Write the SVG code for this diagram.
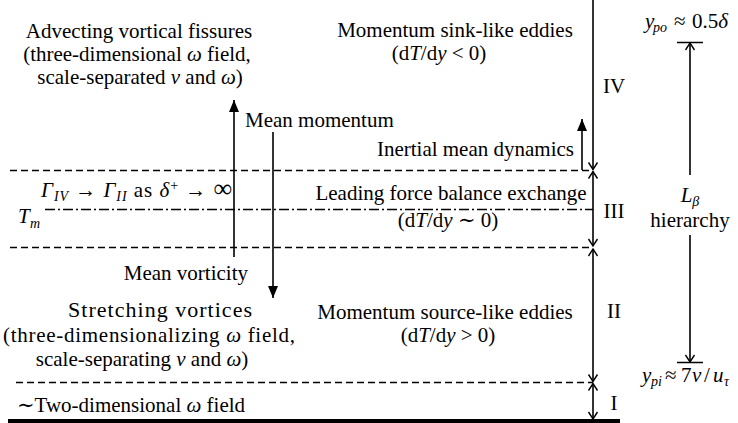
<svg xmlns="http://www.w3.org/2000/svg" width="738" height="423" viewBox="0 0 738 423">
<style>
.t{font-family:"Liberation Serif","Times New Roman","DejaVu Serif",serif;font-size:21px;fill:#000}
.i{font-style:italic}
.s{font-size:14px}
.ln{stroke:#000;stroke-width:1.6;fill:none}
.da{stroke:#000;stroke-width:1.3;fill:none;stroke-dasharray:7 4}
.dd{stroke:#000;stroke-width:1.3;fill:none;stroke-dasharray:10 3 2 3}
</style>
<defs>
<marker id="ah" markerUnits="userSpaceOnUse" markerWidth="13" markerHeight="12" refX="12" refY="5.5" orient="auto-start-reverse"><path d="M0,0.5 L12,5.5 L0,10.5 z" fill="#000"/></marker>
<marker id="ov" markerUnits="userSpaceOnUse" markerWidth="10" markerHeight="12" refX="7" refY="5" orient="auto-start-reverse" overflow="visible"><path d="M0,0.5 L7,5 L0,9.5" fill="none" stroke="#000" stroke-width="1.4"/></marker>
</defs>
<rect width="738" height="423" fill="#fff"/>

<g id="connectors">
<path class="da" d="M10,170.5 H593"/>
<path class="da" d="M10,247.5 H593"/>
<path class="da" d="M16,382.5 H593"/>
<path class="dd" d="M45,209.5 H593"/>
<path d="M8,421 H620" stroke="#000" stroke-width="4"/>
<path class="ln" d="M593,0 V169.5" marker-end="url(#ov)"/>
<path class="ln" d="M593,171.5 V246" marker-start="url(#ov)" marker-end="url(#ov)"/>
<path class="ln" d="M593,249 V381.5" marker-start="url(#ov)" marker-end="url(#ov)"/>
<path class="ln" d="M593,383.5 V419" marker-start="url(#ov)" marker-end="url(#ov)"/>
<path class="ln" d="M234,257 V100" marker-end="url(#ah)"/>
<path class="ln" d="M273,132 V298" marker-end="url(#ah)"/>
<path class="ln" d="M582,170 V119" marker-end="url(#ah)"/>
<path class="ln" d="M690,175 V43" marker-end="url(#ov)"/>
<path class="ln" d="M690,235 V362" marker-end="url(#ov)"/>
<path d="M677,42.5 H703 M677,362.5 H703" stroke="#000" stroke-width="1.3"/>
</g>

<g id="n-advect" class="t" text-anchor="middle">
<text x="139" y="38">Advecting vortical fissures</text>
<text x="137" y="61">(three-dimensional <tspan class="i">ω</tspan> field,</text>
<text x="140" y="84">scale-separated <tspan class="i">v</tspan> and <tspan class="i">ω</tspan>)</text>
</g>

<g id="n-sink" class="t" text-anchor="middle">
<text x="455" y="37">Momentum sink-like eddies</text>
<text x="439" y="60">(d<tspan class="i">T</tspan>/d<tspan class="i">y</tspan> &lt; 0)</text>
</g>

<g id="n-IV" class="t" text-anchor="middle"><text x="614" y="93">IV</text></g>

<g id="n-ypo" class="t"><text y="28"><tspan class="i" x="645">y</tspan><tspan class="i s" x="653" dy="4">po</tspan><tspan x="674" dy="-4">≈</tspan><tspan x="692">0.5</tspan><tspan class="i">δ</tspan></text></g>

<g id="n-meanmom" class="t"><text x="245" y="127">Mean momentum</text></g>

<g id="n-inertial" class="t" text-anchor="end"><text x="574" y="156">Inertial mean dynamics</text></g>

<g id="n-gamma" class="t"><text x="41" y="197" textLength="191"><tspan class="i">Γ</tspan><tspan class="i s" dy="4">IV</tspan><tspan dy="-4"> → </tspan><tspan class="i">Γ</tspan><tspan class="i s" dy="4">II</tspan><tspan dy="-4"> as </tspan><tspan class="i">δ</tspan><tspan class="s" dy="-7">+</tspan><tspan dy="7"> → </tspan><tspan font-size="26">∞</tspan></text></g>

<g id="n-Tm" class="t"><text y="223"><tspan class="i" x="18">T</tspan><tspan class="i s" x="30" dy="5">m</tspan></text></g>

<g id="n-leading" class="t" text-anchor="middle">
<text x="451" y="200">Leading force balance exchange</text>
<text x="448" y="227">(d<tspan class="i">T</tspan>/d<tspan class="i">y</tspan> ∼ 0)</text>
</g>

<g id="n-III" class="t" text-anchor="middle"><text x="614" y="218">III</text></g>

<g id="n-Lb" class="t" text-anchor="middle">
<text x="690" y="202"><tspan class="i">L</tspan><tspan class="i s" dy="4">β</tspan></text>
<text x="690" y="227">hierarchy</text>
</g>

<g id="n-meanvort" class="t" text-anchor="end"><text x="248" y="280">Mean vorticity</text></g>

<g id="n-stretch" class="t" text-anchor="middle">
<text x="160" y="317" font-size="22" textLength="184">Stretching vortices</text>
<text x="149" y="342" textLength="292">(three-dimensionalizing <tspan class="i">ω</tspan> field,</text>
<text x="142" y="366">scale-separating <tspan class="i">v</tspan> and <tspan class="i">ω</tspan>)</text>
</g>

<g id="n-source" class="t" text-anchor="middle">
<text x="445" y="319">Momentum source-like eddies</text>
<text x="448" y="342">(d<tspan class="i">T</tspan>/d<tspan class="i">y</tspan> &gt; 0)</text>
</g>

<g id="n-II" class="t" text-anchor="middle"><text x="614" y="318">II</text></g>

<g id="n-ypi" class="t"><text y="382"><tspan class="i" x="642">y</tspan><tspan class="i s" x="651" dy="4">pi</tspan><tspan x="665" dy="-4">≈</tspan><tspan x="681">7</tspan><tspan class="i" x="692">ν</tspan><tspan x="704">/</tspan><tspan class="i" x="713">u</tspan><tspan class="i s" x="724" dy="4">τ</tspan></text></g>

<g id="n-I" class="t" text-anchor="middle"><text x="614" y="410">I</text></g>

<g id="n-twod" class="t"><text x="17" y="412">∼Two-dimensional <tspan class="i">ω</tspan> field</text></g>
</svg>
